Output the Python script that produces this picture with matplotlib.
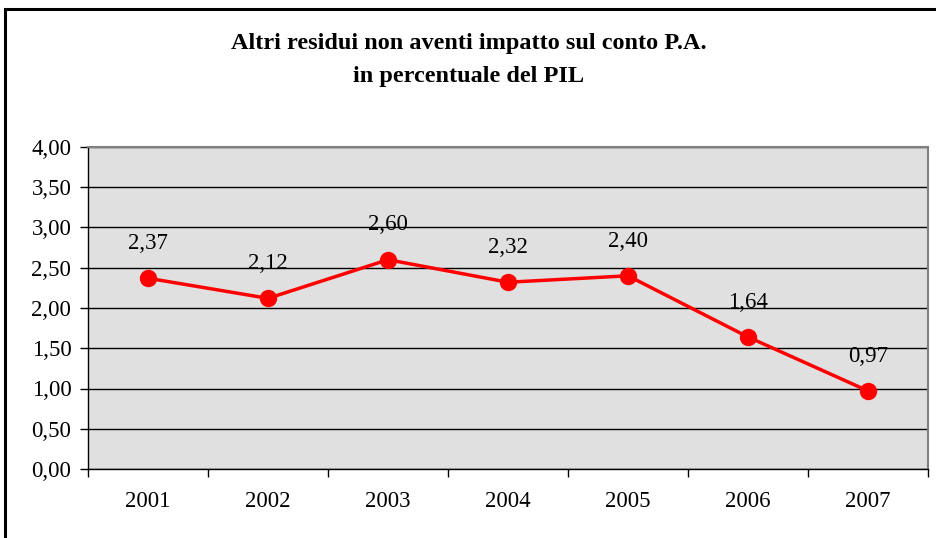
import matplotlib.pyplot as plt
from matplotlib.patches import Rectangle

years = ['2001', '2002', '2003', '2004', '2005', '2006', '2007']
values = [2.37, 2.12, 2.60, 2.32, 2.40, 1.64, 0.97]
title = 'Altri residui non aventi impatto sul conto P.A.\nin percentuale del PIL'

plt.rcParams['font.family'] = ['Liberation Serif', 'DejaVu Serif']

fig = plt.figure(figsize=(9.37, 5.38), dpi=100)
W, H = 937, 538
ax = fig.add_axes([88 / W, 1 - 469 / H, 840 / W, 322 / H])

# outer chart border (cut off on right and bottom)
fig.patches.append(Rectangle((5 / W, -0.1), 1.2, 1 - 9 / H + 0.1,
                             transform=fig.transFigure, fill=False,
                             edgecolor='black', linewidth=2.2))

x = list(range(len(years)))
ax.set_facecolor('#E0E0E0')
ax.plot(x, values, color='#FF0000', linewidth=2.5, marker='o',
        markersize=11.5, zorder=3)
for xi, v in zip(x, values):
    ax.annotate(f'{v:.2f}'.replace('.', ','), (xi, v), xytext=(0, 25),
                textcoords='offset points', ha='center', va='center',
                fontsize=16.5)

ax.set_xlim(-0.5, len(years) - 0.5)
ax.set_ylim(0, 4)
ax.set_yticks([i * 0.5 for i in range(9)])
ax.set_yticklabels([f'{i * 0.5:.2f}'.replace('.', ',') for i in range(9)])
ax.set_xticks(x)
ax.set_xticklabels(years)
ax.set_xticks([i - 0.5 for i in range(len(years) + 1)], minor=True)
ax.tick_params(axis='x', which='major', length=0, pad=16, labelsize=16.5)
ax.tick_params(axis='x', which='minor', length=6, width=1)
ax.tick_params(axis='y', length=6, width=1, pad=6, labelsize=16.5)

ax.grid(axis='y', color='black', linewidth=1)
ax.set_axisbelow(True)
for s in ['top', 'right']:
    ax.spines[s].set_color('#808080')
    ax.spines[s].set_linewidth(1.5)
for s in ['left', 'bottom']:
    ax.spines[s].set_color('black')
    ax.spines[s].set_linewidth(1)

fig.text(0.5, 1 - 60 / H, title, ha='center', va='center', fontsize=17.5,
         fontweight='bold', linespacing=1.7)

fig.savefig('out.png', dpi=100)
